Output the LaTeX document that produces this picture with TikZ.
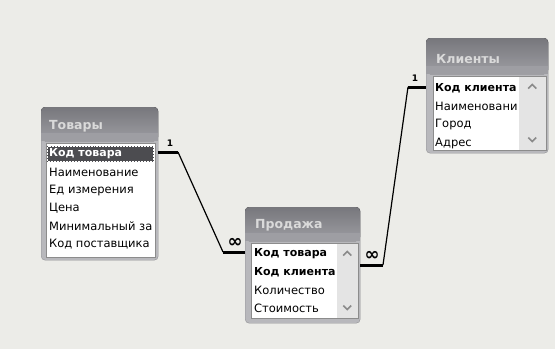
\documentclass[tikz,border=0pt]{standalone}
\usepackage{fontspec}
\setmainfont{DejaVu Sans}
\usetikzlibrary{calc}
\definecolor{scanbg}{HTML}{ECECE8}
\definecolor{frame}{HTML}{B8B8BC}
\definecolor{titlebar}{HTML}{8C8C92}
\definecolor{titletext}{HTML}{DADADA}
\definecolor{keyrow}{HTML}{4C4C50}
\definecolor{track}{HTML}{E4E4E4}
\definecolor{chevron}{HTML}{8A8A8A}
\def\scrollbar(#1,#2)(#3,#4){
	\fill[track] (#1,#2) rectangle (#3,#4);
	\draw[chevron, line width=1.6pt] ({(#1+#3)/2-4},{#2+12}) -- ({(#1+#3)/2},{#2+8}) -- ({(#1+#3)/2+4},{#2+12});
	\draw[chevron, line width=1.6pt] ({(#1+#3)/2-4},{#4-12}) -- ({(#1+#3)/2},{#4-8}) -- ({(#1+#3)/2+4},{#4-12});
}
\tikzset{
	win/.style={fill=frame, draw=frame!80!black, rounded corners=4pt, inner sep=0pt, anchor=north west},
	bar/.style={top color=titlebar!85!black, bottom color=titlebar!60!frame, rounded corners=4pt},
	listbox/.style={fill=white, draw=black!45, line width=0.6pt},
	field/.style={anchor=west, inner sep=0pt, font=\fontsize{11.5}{13}\selectfont},
	keyfield/.style={field, font=\fontsize{11}{13}\selectfont\bfseries},
	wtitle/.style={anchor=west, inner sep=0pt, text=titletext, font=\fontsize{12.5}{14}\selectfont\bfseries},
	stub/.style={line width=3pt},
	link/.style={line width=1.2pt},
	card/.style={inner sep=0pt, font=\fontsize{9}{10}\selectfont\bfseries},
	many/.style={inner sep=0pt, font=\fontsize{18}{18}\selectfont\bfseries}
}

\begin{document}
\begin{tikzpicture}[x=1pt, y=-1pt]
			%%%%% START %%%%%
			
			\fill[scanbg] (0,0) rectangle (555,349);
			\useasboundingbox (0,0) rectangle (555,349);
			
			%% Товары
			\node[win, minimum width=117pt, minimum height=153pt] (tovary) at (41,107) {};
			\fill[bar] (41,107) rectangle (158,141);
			\fill[titlebar!60!frame] (41.4,133) rectangle (157.6,141);
			\node[wtitle] (tovTitle) at (49,126) {Товары};
			\draw[listbox] (46,143) rectangle (155,257);
			\begin{scope}
				\clip (46.5,143.5) rectangle (154.5,256.5);
				\fill[keyrow] (47,146) rectangle (154,162);
				\draw[white, densely dotted, line width=0.5pt] (47.5,146.5) rectangle (153.5,161.5);
				\node[keyfield, text=white] (tovKod) at (49,154) {Код товара};
				\node[field] (tovName) at (49,172) {Наименование};
				\node[field] (tovEd) at (49,190) {Ед измерения};
				\node[field] (tovCena) at (49,208) {Цена};
				\node[field] (tovMin) at (49,226) {Минимальный за};
				\node[field] (tovPost) at (49,244) {Код поставщика};
			\end{scope}
			
			%% Продажа
			\node[win, minimum width=115pt, minimum height=116pt] (prodaja) at (245,207) {};
			\fill[bar] (245,207) rectangle (360,241);
			\fill[titlebar!60!frame] (245.4,233) rectangle (359.6,241);
			\node[wtitle] (prodTitle) at (255,225) {Продажа};
			\draw[listbox] (251,243) rectangle (358,318);
			\scrollbar(337,243.5)(357.5,317.5)
			\begin{scope}
				\clip (251.5,243.5) rectangle (337,317.5);
				\node[keyfield] (prodKod) at (254,254) {Код товара};
				\node[keyfield] (prodKlient) at (254,272) {Код клиента};
				\node[field] (prodKol) at (254,290) {Количество};
				\node[field] (prodStoim) at (254,308) {Стоимость};
			\end{scope}
			
			%% Клиенты
			\node[win, minimum width=122pt, minimum height=115pt] (klienty) at (426,38) {};
			\fill[bar] (426,38) rectangle (548,74);
			\fill[titlebar!60!frame] (426.4,66) rectangle (547.6,74);
			\node[wtitle] (klTitle) at (436,59) {Клиенты};
			\draw[listbox] (433,76) rectangle (546,150);
			\scrollbar(519,76.5)(545.5,149.5)
			\begin{scope}
				\clip (433.5,76.5) rectangle (519,149.5);
				\node[keyfield] (klKod) at (435,88) {Код клиента};
				\node[field] (klName) at (435,106) {Наименовани};
				\node[field] (klGorod) at (435,124) {Город};
				\node[field] (klAdres) at (435,143) {Адрес};
			\end{scope}
			
			%% Связи
			\coordinate (c1a) at (178,152);
			\coordinate (c1b) at (223,252);
			\draw[stub] (tovary.east |- 0,152) -- (c1a);
			\draw[link] (c1a) -- (c1b);
			\draw[stub] (c1b) -- (prodaja.west |- c1b);
			\node[card] (one1) at (170,143) {1};
			\node[many] (inf1) at (235,243) {∞};
			
			\coordinate (c2a) at (383,265);
			\coordinate (c2b) at (408,87);
			\draw[stub] (prodaja.east |- c2a) -- (c2a);
			\draw[link] (c2a) -- (c2b);
			\draw[stub] (c2b) -- (klienty.west |- c2b);
			\node[card] (one2) at (415,78) {1};
			\node[many] (inf2) at (372,256) {∞};
			
			%%%%% END %%%%%
\end{tikzpicture}
\end{document}
